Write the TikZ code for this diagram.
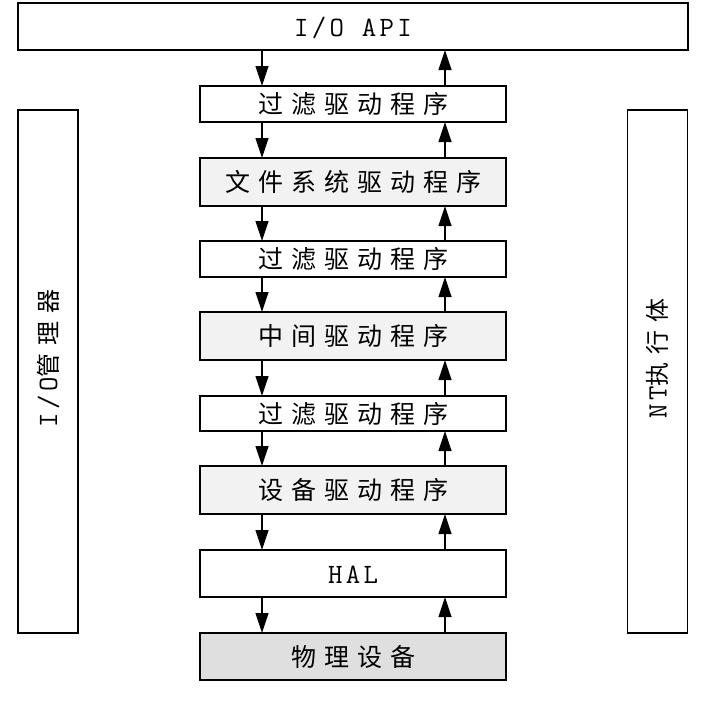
\documentclass[tikz,border=0pt]{standalone}
\usepackage{fontspec}
\newfontfamily\cjk[LetterSpace=32]{Noto Sans CJK SC}
\newfontfamily\lat[LetterSpace=12]{Latin Modern Mono}
\newcommand\latin[1]{{\fontsize{28}{30}\selectfont\lat #1}}
\usetikzlibrary{arrows.meta}
\tikzset{box/.style={shape=rectangle, draw, line width=1.2pt, inner sep=0, outer sep=0,
  text height=21pt, text depth=2pt, font=\fontsize{25}{27}\selectfont\cjk},
  layer/.style={box, minimum width=306pt, fill=white},
  shaded/.style={layer, fill=gray!10},
  hw/.style={layer, fill=gray!25},
  side/.style={box, minimum width=60pt, minimum height=523pt},
  sidetext/.style={rotate=90, inner sep=0, text height=20pt, text depth=2pt,
    font=\fontsize{24}{26}\selectfont\cjk}}

\begin{document}
\begin{tikzpicture}[x=1pt, y=-1pt, >={Triangle[length=20pt, width=13pt]}, line width=1.2pt]
    \useasboundingbox (0,0) rectangle (707,707);
    \node [box, minimum width=670pt, minimum height=47pt] at (353,26.5) (l-0) {\latin{I/O API}};
    \foreach \lbl/\yc/\hgt/\sty [count=\i] in {
        过滤驱动程序/104/36/layer, 文件系统驱动程序/182/48/shaded,
        过滤驱动程序/259/36/layer, 中间驱动程序/336/48/shaded,
        过滤驱动程序/413.5/35/layer, 设备驱动程序/490/48/shaded,
        \latin{HAL}/573.5/47/layer, 物理设备/656.5/47/hw}
        \node [\sty, minimum height=\hgt pt] at (353,\yc) (l-\i) {\lbl};
    \foreach \i [evaluate={\j=int(\i-1);}] in {1,...,8}{
        \draw [->] ([xshift=-91pt]l-\j.south) -- ([xshift=-91pt]l-\i.north);
        \draw [->] ([xshift=92pt]l-\i.north) -- ([xshift=92pt]l-\j.south);
    }
    \node [side] at (48,371.5) (mgr) {};
    \node [side] at (657.5,371.5) (exec) {};
    \node [sidetext] at ([yshift=13pt]mgr.center) (mgr-t) {\latin{I/O}管理器};
    \node [sidetext] at ([yshift=13pt]exec.center) (exec-t) {\latin{NT}执行体};
\end{tikzpicture}
\end{document}
